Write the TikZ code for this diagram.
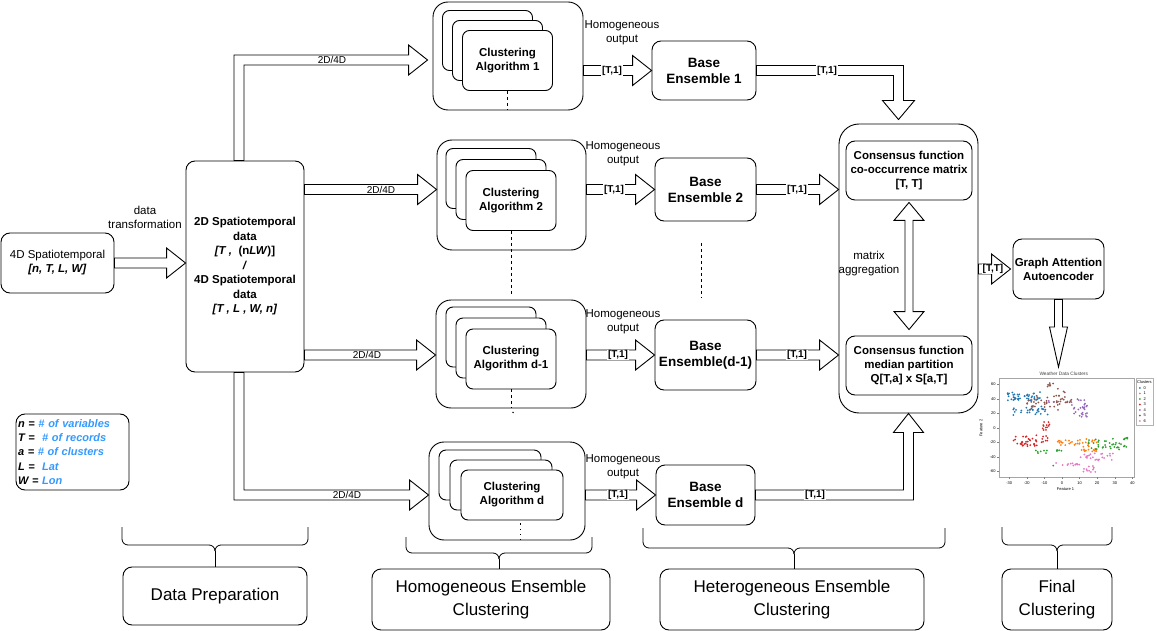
\documentclass[tikz,border=0pt]{standalone}
\usepackage{fontspec}
\setmainfont{Liberation Sans}
\usepackage{xcolor}
\usetikzlibrary{calc, positioning}

\definecolor{varblue}{HTML}{3399FF}
\definecolor{clu0}{HTML}{1F77B4}
\definecolor{clu1}{HTML}{FF7F0E}
\definecolor{clu2}{HTML}{2CA02C}
\definecolor{clu3}{HTML}{D62728}
\definecolor{clu4}{HTML}{9467BD}
\definecolor{clu5}{HTML}{8C564B}
\definecolor{clu6}{HTML}{E377C2}

% hollow block arrows: shaft 10pt wide, head 30pt wide and 19pt long
\newcommand{\flexright}[2]{%
  \draw[flex] let \p1=#1, \p2=#2 in
    (\x1,\y1+5pt) -- (\x2-19pt,\y1+5pt) -- (\x2-19pt,\y1+15pt) -- (\x2,\y1)
    -- (\x2-19pt,\y1-15pt) -- (\x2-19pt,\y1-5pt) -- (\x1,\y1-5pt) -- cycle;}
\newcommand{\flexupright}[2]{%
  \draw[flex] let \p1=#1, \p2=#2 in
    (\x1-5pt,\y1) -- (\x1-5pt,\y2+5pt) -- (\x2-19pt,\y2+5pt) -- (\x2-19pt,\y2+15pt) -- (\x2,\y2)
    -- (\x2-19pt,\y2-15pt) -- (\x2-19pt,\y2-5pt) -- (\x1+5pt,\y2-5pt) -- (\x1+5pt,\y1) -- cycle;}
\newcommand{\flexdownright}[2]{%
  \draw[flex] let \p1=#1, \p2=#2 in
    (\x1-5pt,\y1) -- (\x1-5pt,\y2-5pt) -- (\x2-19pt,\y2-5pt) -- (\x2-19pt,\y2-15pt) -- (\x2,\y2)
    -- (\x2-19pt,\y2+15pt) -- (\x2-19pt,\y2+5pt) -- (\x1+5pt,\y2+5pt) -- (\x1+5pt,\y1) -- cycle;}
\newcommand{\flexrightdown}[2]{%
  \draw[flex] let \p1=#1, \p2=#2 in
    (\x1,\y1+5pt) -- (\x2+5pt,\y1+5pt) -- (\x2+5pt,\y2+19pt) -- (\x2+16pt,\y2+19pt) -- (\x2,\y2)
    -- (\x2-16pt,\y2+19pt) -- (\x2-5pt,\y2+19pt) -- (\x2-5pt,\y1-5pt) -- (\x1,\y1-5pt) -- cycle;}
\newcommand{\flexrightup}[2]{%
  \draw[flex] let \p1=#1, \p2=#2 in
    (\x1,\y1-5pt) -- (\x2+5pt,\y1-5pt) -- (\x2+5pt,\y2-19pt) -- (\x2+15pt,\y2-19pt) -- (\x2,\y2)
    -- (\x2-15pt,\y2-19pt) -- (\x2-5pt,\y2-19pt) -- (\x2-5pt,\y1+5pt) -- (\x1,\y1+5pt) -- cycle;}
\newcommand{\flexdown}[2]{%
  \draw[flex] let \p1=#1, \p2=#2 in
    (\x1-4pt,\y1) -- (\x1-4pt,\y2+40pt) -- (\x1-9pt,\y2+40pt) -- (\x1,\y2)
    -- (\x1+9pt,\y2+40pt) -- (\x1+4pt,\y2+40pt) -- (\x1+4pt,\y1) -- cycle;}
\newcommand{\flexboth}[2]{%
  \draw[flex] let \p1=#1, \p2=#2 in
    (\x1,\y1) -- (\x1+15pt,\y1-18pt) -- (\x1+4pt,\y1-18pt) -- (\x1+4pt,\y2+18pt) -- (\x1+15pt,\y2+18pt)
    -- (\x1,\y2) -- (\x1-15pt,\y2+18pt) -- (\x1-4pt,\y2+18pt) -- (\x1-4pt,\y1-18pt) -- (\x1-15pt,\y1-18pt) -- cycle;}

\begin{document}
\begin{tikzpicture}[x=1pt, y=-1pt, line width=0.9pt]
    \tikzstyle{box}    = [rectangle, draw, rounded corners=9pt, align=center, inner sep=0pt, font=\bfseries\fontsize{11.5}{14}\selectfont]
    \tikzstyle{group}  = [rectangle, draw, rounded corners=15pt, inner sep=0pt]
    \tikzstyle{card}   = [box, fill=white, rounded corners=7pt, minimum width=90pt, minimum height=60pt]
    \tikzstyle{ens}    = [box, font=\bfseries\fontsize{13.5}{16}\selectfont]
    \tikzstyle{flex}   = [draw, fill=white, line join=miter]
    \tikzstyle{lbl}    = [align=center, inner sep=0pt, font=\fontsize{11.5}{14}\selectfont]
    \tikzstyle{tag}    = [fill=white, inner sep=0.6pt, font=\bfseries\fontsize{10}{12}\selectfont]
    \tikzstyle{dimtag} = [tag, font=\fontsize{10}{12}\selectfont]
    \tikzstyle{phase}  = [box, font=\fontsize{17}{23}\selectfont]
    \tikzstyle{plotfont} = [inner sep=0.3pt, font=\fontsize{4}{4.5}\selectfont]

    \useasboundingbox (0,0) rectangle (1157,631);

    % data preparation
    \node (in4d) [box, font=\fontsize{11.5}{14}\selectfont, minimum width=113pt, minimum height=60pt] at (57.5,263)
        {4D Spatiotemporal\\\textbf{\textit{[n, T, L, W]}}};
    \node (prep) [box, font=\bfseries\fontsize{11.5}{14.5}\selectfont, minimum width=118pt, minimum height=211pt] at (245,266.5)
        {2D Spatiotemporal\\data\\\textit{[T ,}\ \ (n\textit{LW})]\\\textit{/}\\4D Spatiotemporal\\data\\\textit{[T , L , W, n]}};
    \node (vars) [box, font=\bfseries\itshape\fontsize{11}{14.3}\selectfont, align=left, text width=109pt, inner sep=2pt, minimum height=76pt] at (72.5,452)
        {n = \textcolor{varblue}{\# of variables}\\T =\ \ \textcolor{varblue}{\# of records}\\a = \textcolor{varblue}{\# of clusters}\\L =\ \ \textcolor{varblue}{Lat}\\W = \textcolor{varblue}{Lon}};

    % homogeneous ensembles
    \node (g1)  [group, minimum width=150pt, minimum height=108pt] at (508,56) {};
    \node (a1c) [card] at (487.5,40.5) {};
    \node (a1b) [card] at ($(a1c)+(10,10)$) {};
    \node (a1)  [card] at ($(a1b)+(10,10)$) {Clustering\\Algorithm 1};

    \node (g2)  [group, minimum width=149pt, minimum height=110pt] at (511.5,195) {};
    \node (a2c) [card] at (491,178.5) {};
    \node (a2b) [card] at ($(a2c)+(10,11)$) {};
    \node (a2)  [card] at ($(a2b)+(10,11)$) {Clustering\\Algorithm 2};

    \node (g3)  [group, minimum width=150pt, minimum height=108pt] at (511,354) {};
    \node (a3c) [card] at (491,337) {};
    \node (a3b) [card] at ($(a3c)+(10,11)$) {};
    \node (a3)  [card] at ($(a3b)+(10,11)$) {Clustering\\Algorithm d-1};

    \node (g4)  [group, minimum width=156pt, minimum height=98pt] at (507,491) {};
    \node (a4c) [card, minimum width=102pt, minimum height=50pt] at (490,475) {};
    \node (a4b) [card, minimum width=102pt, minimum height=50pt] at ($(a4c)+(11,10)$) {};
    \node (a4)  [card, minimum width=102pt, minimum height=50pt] at ($(a4b)+(11,10)$) {Clustering\\Algorithm d};

    % heterogeneous ensemble
    \node (be1) [ens, minimum width=104pt, minimum height=59pt] at (704,70.5) {Base\\Ensemble 1};
    \node (be2) [ens, minimum width=101pt, minimum height=63pt] at (705.5,189.5) {Base\\Ensemble 2};
    \node (be3) [ens, minimum width=101pt, minimum height=70pt] at (705.5,355) {Base\\Ensemble(d-1)};
    \node (be4) [ens, minimum width=99pt, minimum height=60pt] at (705.5,495) {Base\\Ensemble d};

    \node (cons)    [group, rounded corners=20pt, minimum width=139pt, minimum height=289pt] at (908.5,268.5) {};
    \node (cofunc)  [box, minimum width=126pt, minimum height=59pt] at (909,170.5)
        {Consensus function\\co-occurrence matrix\\{}[T, T]};
    \node (medfunc) [box, minimum width=126pt, minimum height=59pt] at (909,365.5)
        {Consensus function\\median partition\\Q[T,a] x S[a,T]};

    % final clustering
    \node (gaa) [box, minimum width=91pt, minimum height=60pt] at (1058.5,269) {Graph Attention\\Autoencoder};

    % phase captions
    \node (dp)    [phase, minimum width=184pt, minimum height=58pt] at (215,596) {Data Preparation};
    \node (hec)   [phase, minimum width=238pt, minimum height=61pt] at (491,599.5) {Homogeneous Ensemble\\Clustering};
    \node (hetec) [phase, minimum width=264pt, minimum height=61pt] at (792,599.5) {Heterogeneous Ensemble\\Clustering};
    \node (fin)   [phase, minimum width=110pt, minimum height=61pt] at (1057,599.5) {Final\\Clustering};

    % block arrows
    \flexright{(in4d.east)}{(prep.west)}
    \flexupright{($(prep.north)+(-6,0)$)}{($(g1.west)+(-5,4)$)}
    \flexright{(prep.east |- be2)}{(g2.west |- be2)}
    \flexright{(prep.east |- be3)}{(g3.west |- be3)}
    \flexdownright{($(prep.south)+(-6,0)$)}{(g4.west |- be4)}
    \flexright{(g1.east |- be1)}{(be1.west)}
    \flexright{(g2.east |- be2)}{(be2.west)}
    \flexright{(g3.east |- be3)}{(be3.west)}
    \flexright{(g4.east |- be4)}{(be4.west)}
    \flexrightdown{(be1.east)}{($(cons.north)+(-10,-4)$)}
    \flexright{(be2.east)}{(cons.west |- be2)}
    \flexright{(be3.east)}{(cons.west |- be3)}
    \flexrightup{(be4.east)}{(cons.south)}
    \flexboth{($(cofunc.south)+(0,2)$)}{($(medfunc.north)+(0,-6)$)}
    \flexright{(cons.east |- gaa)}{($(gaa.west)+(-2,0)$)}
    \coordinate (plottop) at (1058.5,367);
    \flexdown{(gaa.south)}{(plottop)}

    % ellipsis marks
    \draw[dashed, line width=0.7pt] (a1.south) -- (a1.south |- g1.south);
    \draw[dashed, line width=0.7pt] (a2.south) -- ($(a2.south |- g3.north)+(0,-5)$);
    \draw[dashed, line width=0.7pt] (a3.south) -- (a3.south |- g3.south);
    \fill ($(a3.south |- g3.south)+(2,4)$) circle (0.8pt);
    \draw[dash pattern=on 1.3pt off 4pt, line width=1pt] ($(a4.south)+(8,3)$) -- ($(a4.south |- g4.south)+(8,0)$);
    \draw[dashed, line width=0.7pt] ($(be2.south)+(-4,22)$) -- ($(be3.north)+(-4,-22)$);

    % labels
    \node (dtlbl) [lbl] at (145,217.5) {data\\transformation};
    \node (d1) [dimtag] at (332,60) {2D/4D};
    \node (d2) [dimtag] at (381,189.5) {2D/4D};
    \node (d3) [dimtag] at (367,355) {2D/4D};
    \node (d4) [dimtag] at (347,495) {2D/4D};
    \node (h1) [lbl] at (622,32.5) {Homogeneous\\output};
    \node (h2) [lbl] at (623,153.5) {Homogeneous\\output};
    \node (h3) [lbl] at (623,321.5) {Homogeneous\\output};
    \node (h4) [lbl] at (623,467) {Homogeneous\\output};
    \node (t1) [tag] at (612,70.5) {[T,1]};
    \node (t2) [tag] at (614,189.5) {[T,1]};
    \node (t3) [tag] at (618,355) {[T,1]};
    \node (t4) [tag] at (618,495) {[T,1]};
    \node (u1) [tag] at (827,70.5) {[T,1]};
    \node (u2) [tag] at (797,189.5) {[T,1]};
    \node (u3) [tag] at (797,355) {[T,1]};
    \node (u4) [tag] at (815,495) {[T,1]};
    \node (ttl) [tag] at (993,269) {[T,T]};
    \node (aggl) [lbl] at (869,264) {matrix\\aggregation};

    % braces under the stages
    \foreach \xa/\xb/\yt/\yb/\nm in {122/308/527/545/bdp, 406/592/537/553/bhec, 643/945/528/548/bhet, 1002/1112/527/545/bfin} {
        \draw[line width=0.8pt, rounded corners=6pt] (\xa,\yt) -- (\xa,\yb) -- ({(\xa+\xb)/2},\yb) -- ({(\xa+\xb)/2},\yb+6);
        \draw[line width=0.8pt, rounded corners=6pt] (\xb,\yt) -- (\xb,\yb) -- ({(\xa+\xb)/2},\yb) -- ({(\xa+\xb)/2},\yb+6);
        \coordinate (\nm) at ({(\xa+\xb)/2},\yb+6);
    }
    \draw[line width=0.8pt] (bdp) -- (bdp |- dp.north);
    \draw[line width=0.8pt] (bhec) -- (bhec |- hec.north);
    \draw[line width=0.8pt] (bhet) -- (bhet |- hetec.north);
    \draw[line width=0.8pt] (bfin) -- (bfin |- fin.north);

    % scatter plot of the final clusters
    \begin{scope}[shift={(1062,428)}, x=1.76pt, y=0.725pt]
        \node (ptitle) [plotfont, font=\fontsize{4.8}{5}\selectfont, text=black!75] at (1,74.5) {Weather Data Clusters};
        \draw[black!35, line width=0.4pt] (-35.8,-67.6) rectangle (40.9,69);
        \foreach \v in {-30,-20,...,40} {
            \draw[black!50, line width=0.3pt] (\v,-67.6) -- (\v,-70);
            \node (xt\v) [plotfont] at (\v,-75.5) {\v};
        }
        \foreach \v in {-60,-40,...,60} {
            \draw[black!50, line width=0.3pt] (-35.8,\v) -- (-37,\v);
            \node (yt\v) [plotfont, anchor=east] at (-37.3,\v) {\v};
        }
        \node (fx) [plotfont] at (2,-85) {Feature 1};
        \node (fy) [plotfont, rotate=90] at (-46,0) {Feature 2};
        \pgfmathsetseed{11}
        \foreach \i in {1,...,40} {\fill[clu0] ({-31+19*rnd},{38+12*rnd}) circle (1pt);}
        \foreach \i in {1,...,30} {\fill[clu0] ({-28+20*rnd},{18+12*rnd}) circle (1pt);}
        \foreach \i in {1,...,36} {\fill[clu5] ({-20+20*rnd},{25+20*rnd}) circle (1pt);}
        \foreach \i in {1,...,18} {\fill[clu5] ({-5+13*rnd},{35+20*rnd}) circle (1pt);}
        \foreach \i in {1,...,7}  {\fill[clu5] ({-9+5*rnd},{57+5*rnd}) circle (1pt);}
        \foreach \i in {1,...,30} {\fill[clu4] ({5+10*rnd},{15+25*rnd}) circle (1pt);}
        \foreach \i in {1,...,4}  {\fill[clu4] ({-8+6*rnd},{33+5*rnd}) circle (1pt);}
        \foreach \i in {1,...,42} {\fill[clu3] ({-28+20*rnd},{-25+15*rnd}) circle (1pt);}
        \foreach \i in {1,...,12} {\fill[clu3] ({-12+6*rnd},{-5+15*rnd}) circle (1pt);}
        \foreach \i in {1,...,30} {\fill[clu1] ({-3+23*rnd},{-24+9*rnd}) circle (1pt);}
        \foreach \i in {1,...,14} {\fill[clu1] ({10+10*rnd},{-35+10*rnd}) circle (1pt);}
        \foreach \i in {1,...,42} {\fill[clu2] ({15+23*rnd},{-30+17*rnd}) circle (1pt);}
        \foreach \i in {1,...,7}  {\fill[clu2] ({-15+7*rnd},{-35+4*rnd}) circle (1pt);}
        \foreach \i in {1,...,5}  {\fill[clu2] ({-3+3*rnd},{-32+4*rnd}) circle (1pt);}
        \fill[clu2] (-5,-52) circle (1pt);
        \foreach \i in {1,...,24} {\fill[clu6] ({10+20*rnd},{-45+10*rnd}) circle (1pt);}
        \foreach \i in {1,...,12} {\fill[clu6] ({-5+15*rnd},{-52+4*rnd}) circle (1pt);}
        \foreach \i in {1,...,12} {\fill[clu6] ({12+8*rnd},{-62+10*rnd}) circle (1pt);}
        % legend
        \draw[black!30, line width=0.3pt] (42,69) rectangle (51.7,4);
        \node (lgt) [plotfont] at (46.8,63.4) {Clusters};
        \foreach \c [count=\k from 0] in {clu0,clu1,clu2,clu3,clu4,clu5,clu6} {
            \fill[\c] (44.2,{55.2-7.6*\k}) circle (1pt);
            \node (lg\k) [plotfont, anchor=west] at (46,{55.2-7.6*\k}) {\k};
        }
    \end{scope}
\end{tikzpicture}
\end{document}
